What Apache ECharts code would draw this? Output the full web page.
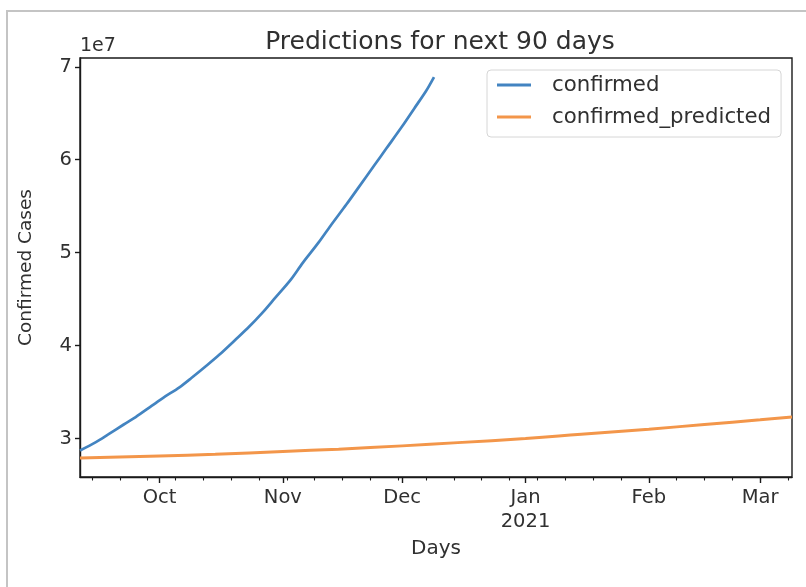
<!DOCTYPE html>
<html>
<head>
<meta charset="utf-8">
<script src="https://cdn.jsdelivr.net/npm/echarts@6/dist/echarts.min.js"></script>
<style>
  html, body { margin: 0; padding: 0; background: #ffffff; }
  #chart { width: 806px; height: 587px; }
</style>
</head>
<body>
<div id="chart"></div>
<script>
// Observed cumulative confirmed cases
const confirmedDates = [
  '2020-09-11', '2020-09-15', '2020-09-18', '2020-09-22', '2020-09-25', '2020-09-29',
  '2020-10-02', '2020-10-06', '2020-10-09', '2020-10-13', '2020-10-16', '2020-10-20',
  '2020-10-23', '2020-10-27', '2020-10-30', '2020-11-03', '2020-11-06', '2020-11-10',
  '2020-11-13', '2020-11-17', '2020-11-20', '2020-11-24', '2020-11-27', '2020-12-01',
  '2020-12-04', '2020-12-07', '2020-12-09'
];
const confirmedValues = [
  28700000, 29600000, 30400000, 31500000, 32300000, 33500000,
  34400000, 35500000, 36500000, 37900000, 39000000, 40600000,
  41800000, 43600000, 45100000, 47100000, 48900000, 51100000,
  52900000, 55200000, 57000000, 59400000, 61200000, 63600000,
  65500000, 67400000, 68900000
];

// Model output, extended 90 days past the last observation
const predictedDates = [
  '2020-09-11', '2020-10-01', '2020-10-15', '2020-11-01', '2020-11-15', '2020-12-01',
  '2020-12-15', '2021-01-01', '2021-01-15', '2021-02-01', '2021-02-15', '2021-03-01',
  '2021-03-09'
];
const predictedValues = [
  27900000, 28100000, 28300000, 28600000, 28850000, 29200000,
  29550000, 30000000, 30450000, 31000000, 31500000, 32000000,
  32300000
];

// Axis ticks
const monthTicks = ['2020-10-01', '2020-11-01', '2020-12-01', '2021-01-01', '2021-02-01', '2021-03-01'];
const yTicks = [30000000, 40000000, 50000000, 60000000, 70000000];
const monthNames = ['Jan', 'Feb', 'Mar', 'Apr', 'May', 'Jun', 'Jul', 'Aug', 'Sep', 'Oct', 'Nov', 'Dec'];

const ts = s => new Date(s + 'T00:00:00Z').getTime();
const DAY = 86400000;

const xMin = ts(predictedDates[0]);
const xMax = ts(predictedDates[predictedDates.length - 1]);

// Weekly minor ticks on Mondays
const mondayTicks = [];
for (let t = xMin; t <= xMax; t += DAY) {
  if (new Date(t).getUTCDay() === 1) mondayTicks.push(t);
}

// y limits padded by 5% of the data span
const allVals = confirmedValues.concat(predictedValues);
const dMin = Math.min(...allVals), dMax = Math.max(...allVals);
const pad = (dMax - dMin) * 0.05;
const yMin = dMin - pad, yMax = dMax + pad;

const FONT = 'DejaVu Sans';
const TXT = '#303030';
const INK = '#1a1a1a';

const chart = echarts.init(document.getElementById('chart'), null, { renderer: 'canvas' });

chart.setOption({
  backgroundColor: '#ffffff',
  animation: false,
  title: {
    text: 'Predictions for next 90 days',
    left: 435,
    top: 25,
    textAlign: 'center',
    textStyle: { fontFamily: FONT, fontSize: 25, fontWeight: 'normal', color: TXT }
  },
  graphic: [
    {
      type: 'rect',
      shape: { x: 7, y: 11, width: 820, height: 600 },
      style: { fill: 'none', stroke: '#c4c4c4', lineWidth: 2 },
      silent: true
    },
    {
      type: 'text',
      left: 80,
      top: 37,
      style: { text: '1e7', fontFamily: FONT, fontSize: 19, fill: TXT }
    }
  ],
  legend: {
    left: 487,
    top: 70,
    orient: 'vertical',
    backgroundColor: '#ffffff',
    borderColor: '#d6d6d6',
    borderWidth: 1,
    borderRadius: 4,
    padding: [4, 10, 9, 10],
    itemGap: 10,
    itemWidth: 34,
    itemHeight: 3,
    icon: 'rect',
    textStyle: { fontFamily: FONT, fontSize: 21.3, color: TXT, lineHeight: 22, padding: [0, 0, 0, 16] },
    data: ['confirmed', 'confirmed_predicted']
  },
  grid: {
    left: 80,
    right: 14,
    top: 58,
    bottom: 110,
    show: true,
    borderColor: INK,
    borderWidth: 1.4,
    backgroundColor: 'transparent'
  },
  xAxis: [
    {
      type: 'value',
      min: xMin,
      max: xMax,
      name: 'Days',
      nameLocation: 'middle',
      nameGap: 60,
      nameTextStyle: { fontFamily: FONT, fontSize: 20, color: TXT },
      axisLine: { show: true, lineStyle: { color: INK, width: 1.4 } },
      axisTick: {
        show: true,
        length: 6,
        customValues: monthTicks.map(ts),
        lineStyle: { color: INK, width: 1.4 }
      },
      axisLabel: {
        show: true,
        customValues: monthTicks.map(ts),
        margin: 9,
        fontFamily: FONT,
        fontSize: 19.5,
        color: TXT,
        lineHeight: 24,
        formatter: v => {
          const d = new Date(v);
          const m = monthNames[d.getUTCMonth()];
          return d.getUTCMonth() === 0 ? m + '\n' + d.getUTCFullYear() : m;
        }
      },
      splitLine: { show: false }
    },
    {
      type: 'value',
      min: xMin,
      max: xMax,
      position: 'bottom',
      axisLine: { show: false },
      axisTick: {
        show: true,
        length: 3.5,
        customValues: mondayTicks,
        lineStyle: { color: INK, width: 1.1 }
      },
      axisLabel: { show: false },
      splitLine: { show: false }
    }
  ],
  yAxis: {
    type: 'value',
    min: yMin,
    max: yMax,
    name: 'Confirmed Cases',
    nameLocation: 'middle',
    nameGap: 44,
    nameRotate: 90,
    nameTextStyle: { fontFamily: FONT, fontSize: 18.5, color: TXT },
    axisLine: { show: true, lineStyle: { color: INK, width: 1.4 } },
    axisTick: {
      show: true,
      length: 5,
      customValues: yTicks,
      lineStyle: { color: INK, width: 1.4 }
    },
    axisLabel: {
      show: true,
      customValues: yTicks,
      margin: 8,
      fontFamily: FONT,
      fontSize: 19.5,
      color: TXT,
      formatter: v => String(Math.round(v / 1e7))
    },
    splitLine: { show: false }
  },
  series: [
    {
      name: 'confirmed',
      type: 'line',
      xAxisIndex: 0,
      showSymbol: false,
      smooth: 0.3,
      lineStyle: { color: '#4384c1', width: 2.7 },
      itemStyle: { color: '#4384c1' },
      data: confirmedDates.map((d, i) => [ts(d), confirmedValues[i]])
    },
    {
      name: 'confirmed_predicted',
      type: 'line',
      xAxisIndex: 0,
      showSymbol: false,
      smooth: true,
      lineStyle: { color: '#f3964a', width: 3 },
      itemStyle: { color: '#f3964a' },
      data: predictedDates.map((d, i) => [ts(d), predictedValues[i]])
    }
  ]
});
</script>
</body>
</html>
